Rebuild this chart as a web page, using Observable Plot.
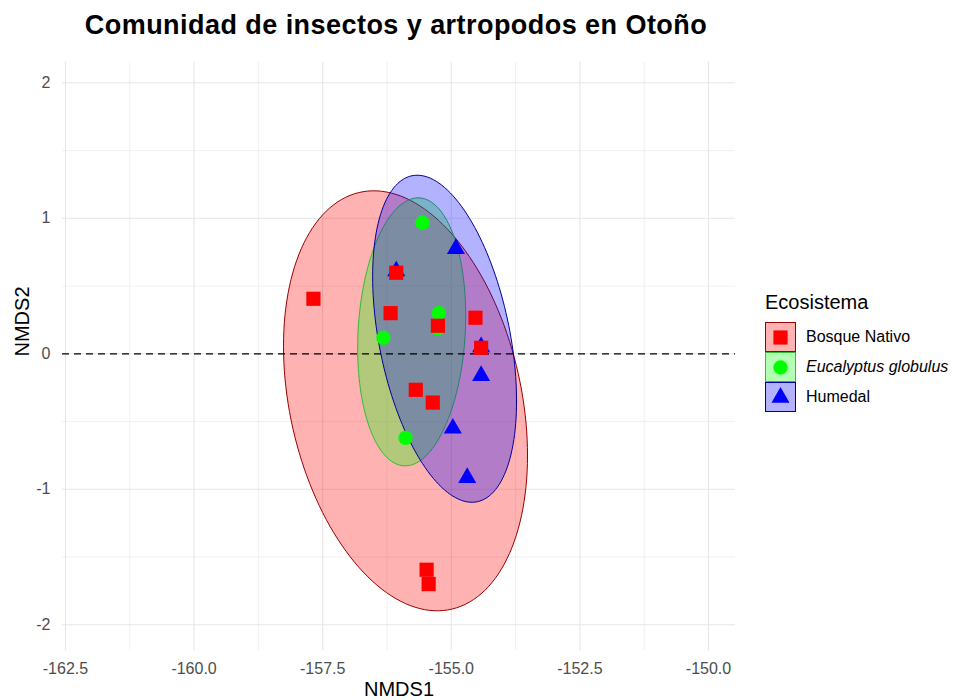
<!DOCTYPE html>
<html><head><meta charset="utf-8">
<script src="https://cdn.jsdelivr.net/npm/d3@7"></script>
<script src="https://cdn.jsdelivr.net/npm/@observablehq/plot@0.6"></script>
<style>
body{margin:0;background:#fff;font-family:"Liberation Sans",Arial,sans-serif;}
#wrap{position:relative;width:956px;height:700px;overflow:hidden;}
#title{position:absolute;left:46px;width:700px;top:10px;text-align:center;font-weight:bold;font-size:27px;letter-spacing:0.45px;line-height:30px;color:#000;white-space:nowrap;}
#chart{position:absolute;left:0;top:50px;}
#legend{position:absolute;left:765px;top:290px;}
#legend .lt{font-size:20px;line-height:24px;color:#000;margin-bottom:8px;}
#legend .row{display:flex;align-items:center;height:30px;}
#legend .row svg{display:block;}
#legend .row span{font-size:16px;margin-left:10px;color:#000;}
</style></head>
<body><div id="wrap"><div id="title">Comunidad de insectos y artropodos en Otoño</div><div id="chart"></div><div id="legend"></div></div>
<script>
// Categories
const groups = ["Bosque Nativo", "Eucalyptus globulus", "Humedal"];
// Points (NMDS1, NMDS2)
const bosqueX = [-157.68, -156.07, -156.18, -155.26, -154.53, -154.42, -155.69, -155.36, -155.48, -155.44];
const bosqueY = [0.406, 0.598, 0.300, 0.207, 0.266, 0.044, -0.266, -0.360, -1.594, -1.700];
const eucaX = [-155.56, -155.24, -155.26, -156.32, -155.89];
const eucaY = [0.967, 0.300, 0.185, 0.118, -0.620];
const humedalX = [-154.91, -154.42, -154.97, -154.69, -156.07, -154.42];
const humedalY = [0.775, -0.162, -0.550, -0.915, 0.610, 0.050];
// Ellipse parameters (per group)
const ellCx = [-155.89, -155.77, -155.13];
const ellCy = [-0.347, 0.162, 0.111];
const ellHalfW = [2.372, 1.050, 1.399];
const ellHalfH = [1.550, 0.989, 1.207];
const ellCorr = [-0.26, 0.12, -0.38];
// Ticks
const xMajor = [-162.5, -160, -157.5, -155, -152.5, -150];
const xMinor = [-161.25, -158.75, -156.25, -153.75, -151.25];
const yMajor = [-2, -1, 0, 1, 2];
const yMinor = [-1.5, -0.5, 0.5, 1.5];
// Styles
const ptColor = ["#ff0000", "#00ff00", "#0000ff"];
const lineColor = ["#990000", "#33bb33", "#000099"];
const symbols = ["square", "circle", "triangle"];
const radii = [8, 7.2, 6.7];

const pts = [];
[[bosqueX, bosqueY], [eucaX, eucaY], [humedalX, humedalY]].forEach(([xs, ys], g) => {
  xs.forEach((x, i) => pts.push({x, y: ys[i], group: groups[g]}));
});

function ellipse(g) {
  const out = [];
  const n = 160;
  const r = ellCorr[g], s = Math.sqrt(1 - r * r);
  for (let k = 0; k <= n; k++) {
    const t = 2 * Math.PI * k / n;
    const c = Math.cos(t), si = Math.sin(t);
    out.push({x: ellCx[g] + ellHalfW[g] * c, y: ellCy[g] + ellHalfH[g] * (r * c + s * si)});
  }
  return out;
}

const marks = [
  Plot.ruleX(xMinor, {stroke: "#ececec", strokeWidth: 0.8}),
  Plot.ruleY(yMinor, {stroke: "#ececec", strokeWidth: 0.8}),
  Plot.ruleX(xMajor, {stroke: "#e6e6e6", strokeWidth: 1.1}),
  Plot.ruleY(yMajor, {stroke: "#e6e6e6", strokeWidth: 1.1}),
  Plot.axisX(xMajor, {tickSize: 0, tickPadding: 12, fontSize: 16, color: "#4d4d4d", tickFormat: d => d.toFixed(1), label: null}),
  Plot.axisY(yMajor, {tickSize: 0, tickPadding: 12, fontSize: 16, color: "#4d4d4d", tickFormat: d => String(d), label: null})
];
groups.forEach((g, i) => {
  marks.push(Plot.line(ellipse(i), {x: "x", y: "y", fill: ptColor[i], fillOpacity: 0.3, stroke: lineColor[i], strokeWidth: 1, curve: "linear"}));
});
marks.push(Plot.ruleY([0], {stroke: "#000", strokeDasharray: "7,5", strokeWidth: 1.2}));
[2, 1, 0].forEach(i => {
  marks.push(Plot.dot(pts.filter(d => d.group === groups[i]), {x: "x", y: "y", symbol: symbols[i], r: radii[i], fill: ptColor[i], stroke: "none"}));
});
marks.push(Plot.text(["NMDS1"], {text: d => d, frameAnchor: "bottom", dy: 39, fontSize: 20, lineAnchor: "middle", fill: "#000"}));
marks.push(Plot.text(["NMDS2"], {text: d => d, frameAnchor: "left", dx: -40, rotate: -90, fontSize: 20, fill: "#000"}));

const plot = Plot.plot({
  width: 956, height: 650,
  marginLeft: 62, marginRight: 221, marginTop: 12, marginBottom: 50,
  style: {fontFamily: "Liberation Sans, Arial, sans-serif", background: "white", overflow: "visible"},
  x: {domain: [-162.558, -149.475], label: null},
  y: {domain: [-2.19, 2.15], label: null},
  symbol: {domain: symbols, range: symbols},
  marks
});
document.getElementById("chart").appendChild(plot);

// Legend
const leg = document.getElementById("legend");
const lt = document.createElement("div"); lt.className = "lt"; lt.textContent = "Ecosistema"; leg.appendChild(lt);
groups.forEach((g, i) => {
  const row = document.createElement("div"); row.className = "row";
  const svg = d3.create("svg").attr("width", 31).attr("height", 30);
  svg.append("rect").attr("x", 0.5).attr("y", 0.5).attr("width", 30).attr("height", 29)
    .attr("fill", ptColor[i]).attr("fill-opacity", 0.3).attr("stroke", lineColor[i]).attr("stroke-width", 1);
  const sym = {square: d3.symbolSquare, circle: d3.symbolCircle, triangle: d3.symbolTriangle}[symbols[i]];
  svg.append("path").attr("transform", "translate(15.5,15.5)")
    .attr("d", d3.symbol(sym, radii[i] * radii[i] * Math.PI)()).attr("fill", ptColor[i]);
  row.appendChild(svg.node());
  const sp = document.createElement("span"); sp.textContent = g;
  if (i === 1) sp.style.fontStyle = "italic";
  row.appendChild(sp);
  leg.appendChild(row);
});
</script>
</body></html>
